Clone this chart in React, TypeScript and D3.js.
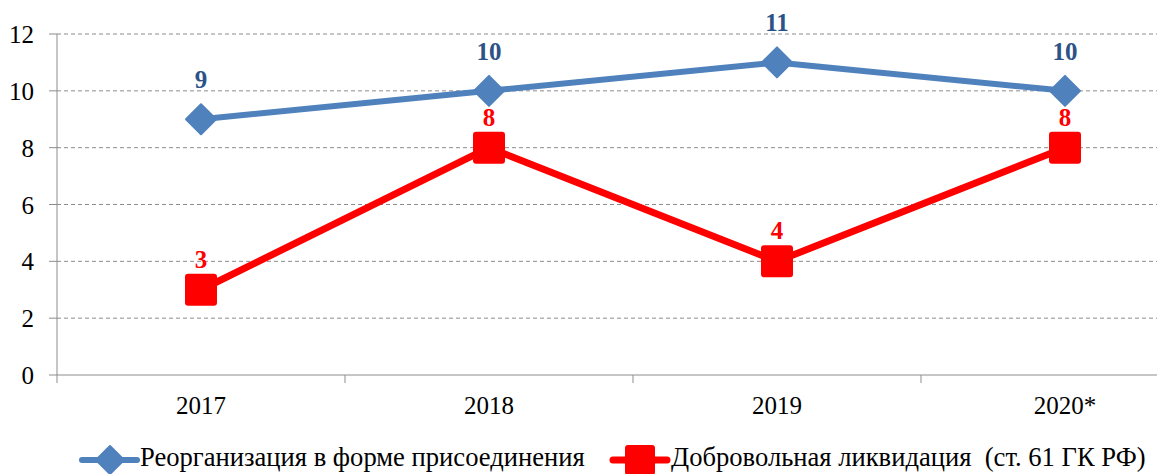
import React from "react";
import * as d3 from "d3";

const categories = ["2017", "2018", "2019", "2020*"];
const reorgValues = [9, 10, 11, 10];
const liquidValues = [3, 8, 4, 8];
const yTicks = [0, 2, 4, 6, 8, 10, 12];
const seriesNames = [
  "Реорганизация в форме присоединения",
  "Добровольная ликвидация  (ст. 61 ГК РФ)",
];

const W = 1157;
const H = 474;
const FONT = "Liberation Serif";
const BLUE = "#4f81bd";
const BLUE_LABEL = "#2c5288";
const RED = "#ff0000";

export default function App() {
  const x0 = 57;
  const bandW = 288;
  const x = d3
    .scaleBand<string>()
    .domain(categories)
    .range([x0, x0 + bandW * categories.length])
    .paddingInner(0)
    .paddingOuter(0);
  const y = d3.scaleLinear().domain([0, 12]).range([375, 34]);
  const cx = (c: string) => (x(c) as number) + x.bandwidth() / 2;

  const line = d3
    .line<number>()
    .x((_, i) => cx(categories[i]))
    .y((d) => y(d));

  const diamond = (px: number, py: number, r: number) =>
    `M${px},${py - r}L${px + r},${py}L${px},${py + r}L${px - r},${py}Z`;

  const ts: React.CSSProperties = { fontFamily: FONT };
  const legY = 460;

  return (
    <svg
      width={W}
      height={H}
      style={{ position: "absolute", left: 0, top: 0, background: "#fff" }}
    >
      {yTicks.filter((t) => t > 0).map((t) => (
        <line
          key={t}
          x1={x0}
          x2={W}
          y1={y(t)}
          y2={y(t)}
          stroke="#8c8c8c"
          strokeWidth={1}
          strokeDasharray="4,3"
        />
      ))}
      <line x1={x0} x2={x0} y1={y(12)} y2={y(0)} stroke="#8c8c8c" strokeWidth={1} />
      {yTicks.map((t) => (
        <g key={"yt" + t}>
          <line x1={x0 - 8} x2={x0} y1={y(t)} y2={y(t)} stroke="#8c8c8c" strokeWidth={1} />
          <text x={34} y={y(t) + 9} textAnchor="end" fontSize={25} fill="#000" style={ts}>
            {t}
          </text>
        </g>
      ))}
      <line x1={x0} x2={W} y1={y(0)} y2={y(0)} stroke="#8c8c8c" strokeWidth={1} />
      {categories.map((c) => (
        <line
          key={"xt" + c}
          x1={x(c)}
          x2={x(c)}
          y1={y(0)}
          y2={y(0) + 8}
          stroke="#8c8c8c"
          strokeWidth={1}
        />
      ))}
      {categories.map((c) => (
        <text key={"xl" + c} x={cx(c)} y={414} textAnchor="middle" fontSize={25} fill="#000" style={ts}>
          {c}
        </text>
      ))}

      <path d={line(reorgValues) || ""} fill="none" stroke={BLUE} strokeWidth={6} strokeLinejoin="round" />
      {reorgValues.map((v, i) => (
        <path
          key={"bd" + i}
          d={diamond(cx(categories[i]), y(v), 15)}
          fill={BLUE}
          stroke={BLUE}
          strokeWidth={2}
          strokeLinejoin="round"
        />
      ))}
      {reorgValues.map((v, i) => (
        <text
          key={"bl" + i}
          x={cx(categories[i])}
          y={y(v) - 31}
          textAnchor="middle"
          fontSize={25}
          fontWeight="bold"
          fill={BLUE_LABEL}
          style={ts}
        >
          {v}
        </text>
      ))}

      <path d={line(liquidValues) || ""} fill="none" stroke={RED} strokeWidth={7} strokeLinejoin="round" />
      {liquidValues.map((v, i) => (
        <rect
          key={"rs" + i}
          x={cx(categories[i]) - 16}
          y={y(v) - 16}
          width={32}
          height={32}
          rx={3}
          fill={RED}
        />
      ))}
      {liquidValues.map((v, i) => (
        <text
          key={"rl" + i}
          x={cx(categories[i])}
          y={y(v) - 22}
          textAnchor="middle"
          fontSize={25}
          fontWeight="bold"
          fill={RED}
          style={ts}
        >
          {v}
        </text>
      ))}

      <g>
        <line x1={82} x2={137} y1={legY} y2={legY} stroke={BLUE} strokeWidth={6} strokeLinecap="round" />
        <path d={diamond(110, legY, 14)} fill={BLUE} stroke={BLUE} strokeWidth={2} strokeLinejoin="round" />
        <text x={140} y={legY + 6} fontSize={26.6} fill="#000" style={ts}>
          {seriesNames[0]}
        </text>
        <line x1={613} x2={667} y1={legY} y2={legY} stroke={RED} strokeWidth={7} strokeLinecap="round" />
        <rect x={625} y={legY - 15} width={30} height={30} rx={3} fill={RED} />
        <text x={671} y={legY + 6} fontSize={26.6} fill="#000" style={{ ...ts, whiteSpace: "pre" }}>
          {seriesNames[1]}
        </text>
      </g>
    </svg>
  );
}
